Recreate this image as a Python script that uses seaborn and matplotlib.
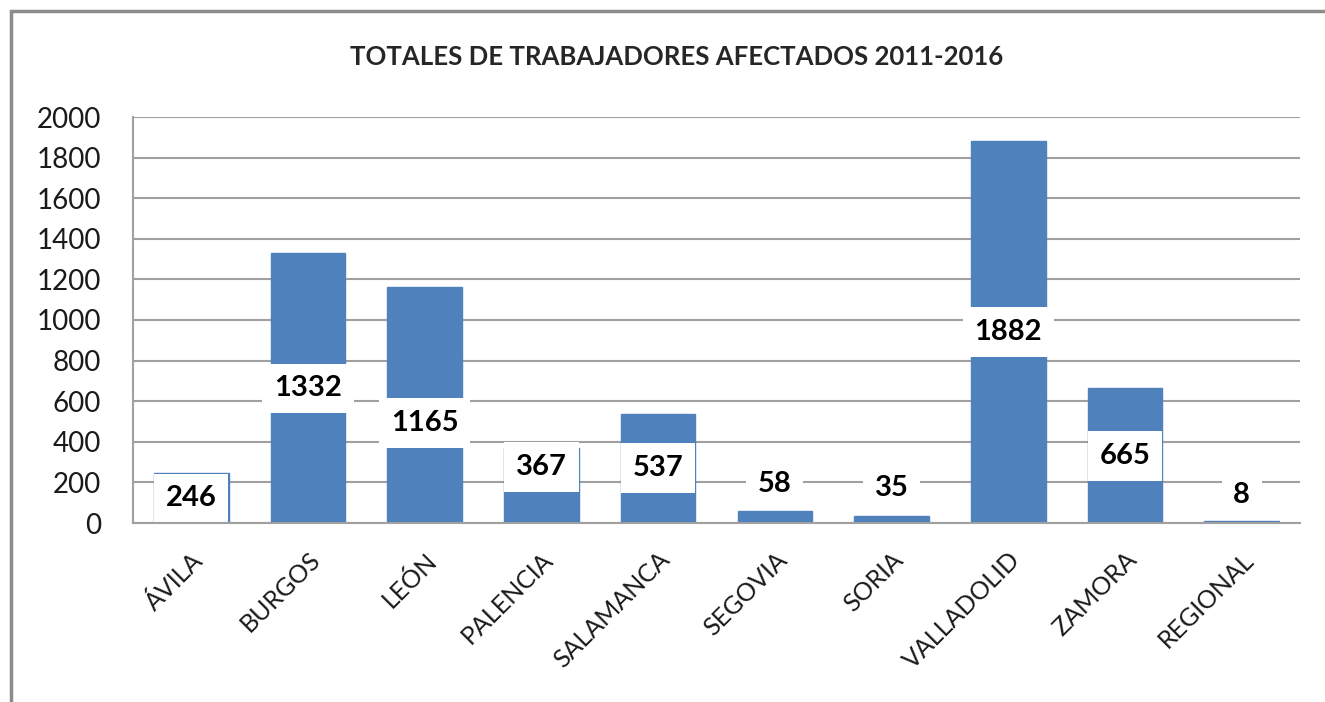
import matplotlib
matplotlib.use("Agg")
import matplotlib.pyplot as plt
import seaborn as sns
import pandas as pd
from matplotlib.patches import Rectangle

categories = ["ÁVILA", "BURGOS", "LEÓN", "PALENCIA", "SALAMANCA", "SEGOVIA",
              "SORIA", "VALLADOLID", "ZAMORA", "REGIONAL"]
values = [246, 1332, 1165, 367, 537, 58, 35, 1882, 665, 8]
title = "TOTALES DE TRABAJADORES AFECTADOS 2011-2016"
yticks = list(range(0, 2001, 200))

# vertical placement of each data label (layout, in axis units)
label_y = [122, 663, 493, 276, 271, 192, 172, 941, 330, 138]

sns.set_theme(style="white")
plt.rcParams['font.family'] = ['Lato', 'DejaVu Sans']

df = pd.DataFrame({"cat": categories, "val": values})
fig = plt.figure(figsize=(13.25, 7.02), dpi=100)
ax = fig.add_axes([133/1325, 1 - 523/702, (1300-133)/1325, (523-117)/702])

sns.barplot(data=df, x="cat", y="val", color="#4F81BD", saturation=1,
            width=0.64, ax=ax, zorder=3, edgecolor="#4F81BD", linewidth=1)

ax.set_ylim(0, 2000)
ax.set_yticks(yticks)
ax.set_yticklabels([str(t) for t in yticks], fontsize=20, color="#1a1a1a")
ax.set_xlabel("")
ax.set_ylabel("")
ax.set_xlim(-0.5, len(categories) - 0.5)
ax.set_xticks(range(len(categories)))
ax.set_xticklabels(categories, rotation=45, ha="right", rotation_mode="anchor",
                   fontsize=18, color="#1a1a1a")
ax.tick_params(axis="x", pad=18, length=0)
ax.tick_params(axis="y", pad=23, length=0)
ax.grid(axis="y", color="#A0A0A0", linewidth=1.5, zorder=0)
ax.set_axisbelow(True)
for s in ["top", "right"]:
    ax.spines[s].set_visible(False)
for s in ["left", "bottom"]:
    ax.spines[s].set_color("#A0A0A0")
    ax.spines[s].set_linewidth(1.5)
    ax.spines[s].set_zorder(10)

for i, (v, ly) in enumerate(zip(values, label_y)):
    ax.text(i, ly, str(v), ha="center", va="center", fontsize=21,
            fontweight="bold", color="black", zorder=5,
            bbox=dict(facecolor="white", edgecolor="none", pad=8.5))

fig.text(677/1325, 1 - 57/702, title, ha="center", va="center", fontsize=18.5,
         fontweight="bold")

fig.patches.append(Rectangle((11/1325, -0.1), 1.2, 1 - 11/702 + 0.1,
                             transform=fig.transFigure, fill=False,
                             edgecolor="#8C8C8C", linewidth=2.5))

fig.savefig("out.png", dpi=100)
